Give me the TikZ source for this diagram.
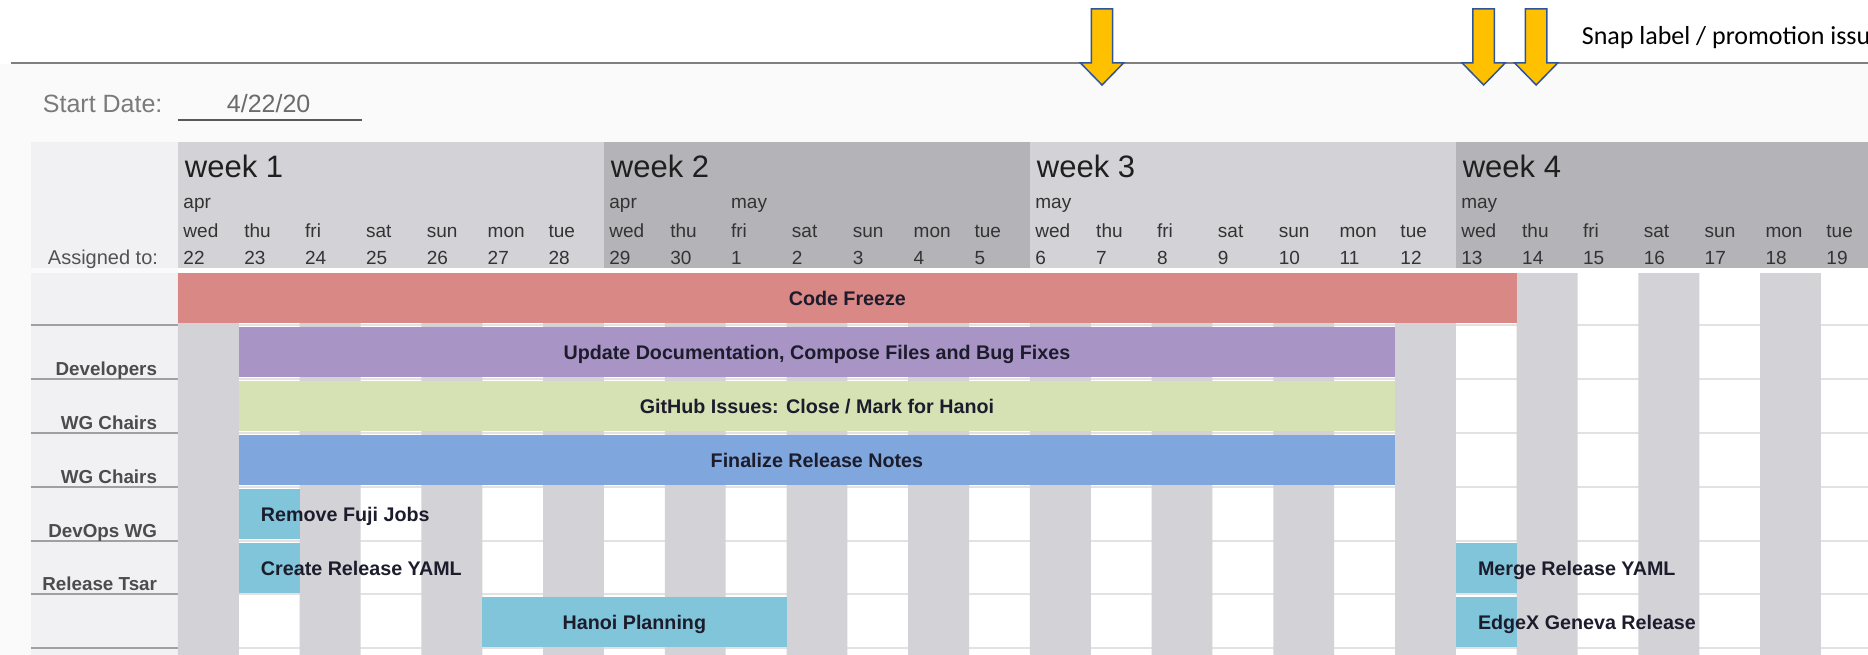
\documentclass[tikz,border=0pt]{standalone}
\usepackage{fontspec}
\setmainfont{Liberation Sans}
\newfontfamily\snapfont{Carlito}

\definecolor{pagebg}{HTML}{FAFAFA}
\definecolor{labelbg}{HTML}{F1F0F3}
\definecolor{weeklight}{HTML}{D3D2D6}
\definecolor{weekdark}{HTML}{B4B3B7}
\definecolor{daygray}{HTML}{D3D2D6}
\definecolor{gridline}{HTML}{E2E2E2}
\definecolor{labelline}{HTML}{A0A0A0}
\definecolor{freezered}{HTML}{D98886}
\definecolor{docspurple}{HTML}{A894C5}
\definecolor{issuesgreen}{HTML}{D6E1B4}
\definecolor{notesblue}{HTML}{80A7DD}
\definecolor{taskteal}{HTML}{80C5D9}
\definecolor{arrowfill}{HTML}{FFC000}
\definecolor{arrowline}{HTML}{2F5597}
\definecolor{bartxt}{HTML}{1C1C2C}
\definecolor{daytxt}{HTML}{333333}

\begin{document}
\begin{tikzpicture}[x=60.85pt, y=-1pt, every node/.style={inner sep=0pt, outer sep=0pt},
    weekhead/.style={anchor=base west, font=\fontsize{31}{36}\selectfont, text=black!88},
    daytext/.style={anchor=base west, font=\fontsize{19}{23}\selectfont, text=daytxt},
    rowlabel/.style={anchor=base east, font=\fontsize{18.8}{22}\selectfont\bfseries, text=black!70},
    bartext/.style={anchor=base, font=\fontsize{19.7}{23}\selectfont\bfseries, text=bartxt},
    markarrow/.style={fill=arrowfill, draw=arrowline, line width=1.5pt, line join=miter}]
        \useasboundingbox (-2.9252,0) rectangle (27.7732,655);
        \clip (-2.9252,0) rectangle (27.7732,655);

        % Page and title line
        \fill[pagebg] (-2.93,64) rectangle (27.8,655);
        \draw[line width=1.8pt, black!50] (-2.744,63) -- (27.8,63);
        \node[anchor=base west, font=\snapfont\fontsize{26}{30}\selectfont] (snap) at (23.07,45) {Snap label / promotion issu};

        % Markers
        \draw[markarrow, shift={(15.185,0)}] (-0.176,9) -- (0.176,9) -- (0.176,63) -- (0.353,63) -- (0,85) -- (-0.353,63) -- (-0.176,63) -- cycle;
        \draw[markarrow, shift={(21.457,0)}] (-0.176,9) -- (0.176,9) -- (0.176,63) -- (0.353,63) -- (0,85) -- (-0.353,63) -- (-0.176,63) -- cycle;
        \draw[markarrow, shift={(22.32,0)}] (-0.176,9) -- (0.176,9) -- (0.176,63) -- (0.353,63) -- (0,85) -- (-0.353,63) -- (-0.176,63) -- cycle;

        % Start date
        \node[anchor=base west, font=\fontsize{25}{29}\selectfont, text=black!52] (startlbl) at (-2.219,113) {Start Date:};
        \node[anchor=base west, font=\fontsize{25}{29}\selectfont, text=black!58] (startval) at (0.805,113) {4/22/20};
        \draw[line width=2.6pt, black!65] (0,120) -- (3.024,120);

        % Label column
        \fill[labelbg] (-2.416,142) rectangle (0,268);
        \fill[labelbg] (-2.416,273) rectangle (0,655);
        \node[anchor=base east, font=\fontsize{20}{24}\selectfont, text=black!68] (assigned) at (-0.329,264) {Assigned to:};
        \draw[labelline, line width=1.5pt] (-2.416,325) -- (0,325) (-2.416,379) -- (0,379) (-2.416,433) -- (0,433)
            (-2.416,487) -- (0,487) (-2.416,541) -- (0,541) (-2.416,594) -- (0,594) (-2.416,648) -- (0,648);
        \node[rowlabel] (developers) at (-0.345,375) {Developers};
        \node[rowlabel] (chairsa) at (-0.345,429) {WG Chairs};
        \node[rowlabel] (chairsb) at (-0.345,483) {WG Chairs};
        \node[rowlabel] (devops) at (-0.345,537) {DevOps WG};
        \node[rowlabel] (tsar) at (-0.345,590) {Release Tsar};

        % Week bands
        \fill[weeklight] (0,142) rectangle (7,268);
        \fill[weekdark] (7,142) rectangle (14,268);
        \fill[weeklight] (14,142) rectangle (21,268);
        \fill[weekdark] (21,142) rectangle (28,268);
        \node[weekhead] (week1) at (0.115,178) {week 1};
        \node[weekhead] (week2) at (7.115,178) {week 2};
        \node[weekhead] (week3) at (14.115,178) {week 3};
        \node[weekhead] (week4) at (21.115,178) {week 4};
        \node[daytext] (apra) at (0.09,208) {apr};
        \node[daytext] (aprb) at (7.09,208) {apr};
        \node[daytext] (maya) at (9.09,208) {may};
        \node[daytext] (mayb) at (14.09,208) {may};
        \node[daytext] (mayc) at (21.09,208) {may};

        % Days
        \node[daytext] (wd0) at (0.09,237) {wed}; \node[daytext] (dt0) at (0.09,264) {22};
        \node[daytext] (wd1) at (1.09,237) {thu}; \node[daytext] (dt1) at (1.09,264) {23};
        \node[daytext] (wd2) at (2.09,237) {fri}; \node[daytext] (dt2) at (2.09,264) {24};
        \node[daytext] (wd3) at (3.09,237) {sat}; \node[daytext] (dt3) at (3.09,264) {25};
        \node[daytext] (wd4) at (4.09,237) {sun}; \node[daytext] (dt4) at (4.09,264) {26};
        \node[daytext] (wd5) at (5.09,237) {mon}; \node[daytext] (dt5) at (5.09,264) {27};
        \node[daytext] (wd6) at (6.09,237) {tue}; \node[daytext] (dt6) at (6.09,264) {28};
        \node[daytext] (wd7) at (7.09,237) {wed}; \node[daytext] (dt7) at (7.09,264) {29};
        \node[daytext] (wd8) at (8.09,237) {thu}; \node[daytext] (dt8) at (8.09,264) {30};
        \node[daytext] (wd9) at (9.09,237) {fri}; \node[daytext] (dt9) at (9.09,264) {1};
        \node[daytext] (wd10) at (10.09,237) {sat}; \node[daytext] (dt10) at (10.09,264) {2};
        \node[daytext] (wd11) at (11.09,237) {sun}; \node[daytext] (dt11) at (11.09,264) {3};
        \node[daytext] (wd12) at (12.09,237) {mon}; \node[daytext] (dt12) at (12.09,264) {4};
        \node[daytext] (wd13) at (13.09,237) {tue}; \node[daytext] (dt13) at (13.09,264) {5};
        \node[daytext] (wd14) at (14.09,237) {wed}; \node[daytext] (dt14) at (14.09,264) {6};
        \node[daytext] (wd15) at (15.09,237) {thu}; \node[daytext] (dt15) at (15.09,264) {7};
        \node[daytext] (wd16) at (16.09,237) {fri}; \node[daytext] (dt16) at (16.09,264) {8};
        \node[daytext] (wd17) at (17.09,237) {sat}; \node[daytext] (dt17) at (17.09,264) {9};
        \node[daytext] (wd18) at (18.09,237) {sun}; \node[daytext] (dt18) at (18.09,264) {10};
        \node[daytext] (wd19) at (19.09,237) {mon}; \node[daytext] (dt19) at (19.09,264) {11};
        \node[daytext] (wd20) at (20.09,237) {tue}; \node[daytext] (dt20) at (20.09,264) {12};
        \node[daytext] (wd21) at (21.09,237) {wed}; \node[daytext] (dt21) at (21.09,264) {13};
        \node[daytext] (wd22) at (22.09,237) {thu}; \node[daytext] (dt22) at (22.09,264) {14};
        \node[daytext] (wd23) at (23.09,237) {fri}; \node[daytext] (dt23) at (23.09,264) {15};
        \node[daytext] (wd24) at (24.09,237) {sat}; \node[daytext] (dt24) at (24.09,264) {16};
        \node[daytext] (wd25) at (25.09,237) {sun}; \node[daytext] (dt25) at (25.09,264) {17};
        \node[daytext] (wd26) at (26.09,237) {mon}; \node[daytext] (dt26) at (26.09,264) {18};
        \node[daytext] (wd27) at (27.09,237) {tue}; \node[daytext] (dt27) at (27.09,264) {19};

        % Grid
        \fill[white] (0,268) rectangle (27.8,655);
        \draw[gridline, line width=1.5pt] (0,325) -- (27.8,325) (0,379) -- (27.8,379) (0,433) -- (27.8,433)
            (0,487) -- (27.8,487) (0,541) -- (27.8,541) (0,594) -- (27.8,594) (0,648) -- (27.8,648);
        \fill[daygray] (0,273) rectangle (1,655) (2,273) rectangle (3,655) (4,273) rectangle (5,655)
            (6,273) rectangle (7,655) (8,273) rectangle (9,655) (10,273) rectangle (11,655)
            (12,273) rectangle (13,655) (14,273) rectangle (15,655) (16,273) rectangle (17,655)
            (18,273) rectangle (19,655) (20,273) rectangle (21,655) (22,273) rectangle (23,655)
            (24,273) rectangle (25,655) (26,273) rectangle (27,655);

        % Bars
        \fill[freezered] (0,273) rectangle (22,323);
        \node[bartext] (freeze) at (11,305) {Code Freeze};
        \fill[docspurple] (1,327) rectangle (20,377);
        \node[bartext] (docs) at (10.5,359) {Update Documentation, Compose Files and Bug Fixes};
        \fill[issuesgreen] (1,381) rectangle (20,431);
        \node[bartext] (issues) at (10.5,413) {GitHub Issues: Close / Mark for Hanoi};
        \fill[notesblue] (1,435) rectangle (20,485);
        \node[bartext] (notes) at (10.5,467) {Finalize Release Notes};
        \fill[taskteal] (1,489) rectangle (2,539);
        \node[bartext, anchor=base west] (fuji) at (1.364,521) {Remove Fuji Jobs};
        \fill[taskteal] (1,543) rectangle (2,593);
        \node[bartext, anchor=base west] (createyaml) at (1.364,575) {Create Release YAML};
        \fill[taskteal] (5,597) rectangle (10,647);
        \node[bartext] (hanoi) at (7.5,629) {Hanoi Planning};
        \fill[taskteal] (21,543) rectangle (22,593);
        \node[bartext, anchor=base west] (mergeyaml) at (21.364,575) {Merge Release YAML};
        \fill[taskteal] (21,597) rectangle (22,647);
        \node[bartext, anchor=base west] (geneva) at (21.364,629) {EdgeX Geneva Release};
    \end{tikzpicture}
\end{document}
